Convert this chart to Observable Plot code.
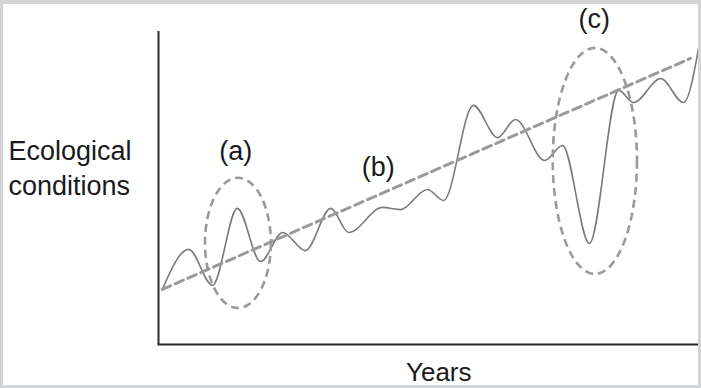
<!DOCTYPE html>
<html>
<head>
<meta charset="utf-8">
<script src="https://cdn.jsdelivr.net/npm/d3@7"></script>
<script src="https://cdn.jsdelivr.net/npm/@observablehq/plot@0.6"></script>
<style>
  html, body { margin: 0; padding: 0; background: #fff; }
  #wrap { position: relative; width: 701px; height: 388px; overflow: hidden; }
  #frame { position: absolute; left: 0; top: 0; width: 701px; height: 388px; box-sizing: border-box;
           border-style: solid; border-color: #d3d4d6; border-width: 4px 3px 3px 3px; pointer-events: none; }
  svg { position: absolute; left: 0; top: 0; }
</style>
</head>
<body>
<div id="wrap"><div id="chart"></div><div id="frame"></div></div>
<script>
// Observed series (years in 0..100 units, ecological conditions 0..100 units)
const years      = [0.7, 5.6, 10.0, 14.6, 18.9, 23.0, 27.2, 31.9, 35.2, 41.5, 44.8, 49.8, 52.8, 58.3, 62.8, 66.1, 71.5, 74.8, 79.8, 85.2, 88.0, 93.0, 97.2, 100.4];
const conditions = [17.6, 30.4, 18.9, 43.5, 26.5, 35.8, 30.0, 43.5, 35.8, 43.8, 43.1, 49.5, 46.0, 76.4, 66.1, 71.9, 58.8, 63.6, 32.3, 81.2, 77.3, 85.0, 77.3, 98.5];

// Dashed trend line
const trendYears  = [0.7, 98.5];
const trendValues = [17.6, 91.4];

// Highlight ellipses (a) and (c)
const ellipseCx = [14.8, 80.9];
const ellipseCy = [32.3, 58.5];
const ellipseRx = [6.1, 7.8];
const ellipseRy = [20.8, 36.1];

// Annotation labels
const labelText = ["(a)", "(b)", "(c)"];
const labelX    = [14.3, 40.7, 80.7];
const labelY    = [61.7, 56.5, 104.0];

const series = years.map((x, i) => ({x, y: conditions[i]}));
const trend = trendYears.map((x, i) => ({x, y: trendValues[i]}));
const labels = labelText.map((t, i) => ({t, x: labelX[i], y: labelY[i]}));
const ellipses = ellipseCx.map((cx, i) => ({cx, cy: ellipseCy[i], rx: ellipseRx[i], ry: ellipseRy[i]}));

const font = "Liberation Sans, Arial, Helvetica, sans-serif";

const ellipseMark = (index, scales) => {
  const g = d3.create("svg:g")
    .attr("fill", "none")
    .attr("stroke", "#9a9a9a")
    .attr("stroke-width", 2.6)
    .attr("stroke-dasharray", "8,5");
  for (const e of ellipses) {
    const cx = scales.x(e.cx), cy = scales.y(e.cy);
    g.append("ellipse")
      .attr("cx", cx).attr("cy", cy)
      .attr("rx", Math.abs(scales.x(e.cx + e.rx) - cx))
      .attr("ry", Math.abs(scales.y(e.cy + e.ry) - cy));
  }
  return g.node();
};

const chart = Plot.plot({
  width: 701,
  height: 388,
  marginLeft: 158,
  marginRight: 3,
  marginTop: 31,
  marginBottom: 44,
  x: {domain: [0, 100], axis: null},
  y: {domain: [0, 100], axis: null},
  style: {fontFamily: font, background: "transparent", overflow: "visible"},
  marks: [
    Plot.line(series, {x: "x", y: "y", curve: "monotone-x", stroke: "#7b7b7b", strokeWidth: 1.6}),
    Plot.line(trend, {x: "x", y: "y", stroke: "#9a9a9a", strokeWidth: 3, strokeDasharray: "9,5"}),
    ellipseMark,
    Plot.ruleX([0], {y1: 0, y2: 100, stroke: "#2a2a2a", strokeWidth: 2}),
    Plot.ruleY([0], {x1: -0.1, x2: 101, stroke: "#2a2a2a", strokeWidth: 2}),
    Plot.text(labels, {x: "x", y: "y", text: "t", fontSize: 27, fill: "#1a1a1a"}),
    Plot.text(["Ecological\nconditions"], {x: -27.8, y: 56.9, text: d => d, textAnchor: "start", fontSize: 27, lineHeight: 1.3, fill: "#1a1a1a"}),
    Plot.text(["Years"], {x: 51.9, y: -9.0, text: d => d, fontSize: 26, fill: "#1a1a1a"})
  ]
});
document.getElementById("chart").appendChild(chart);
</script>
</body>
</html>
